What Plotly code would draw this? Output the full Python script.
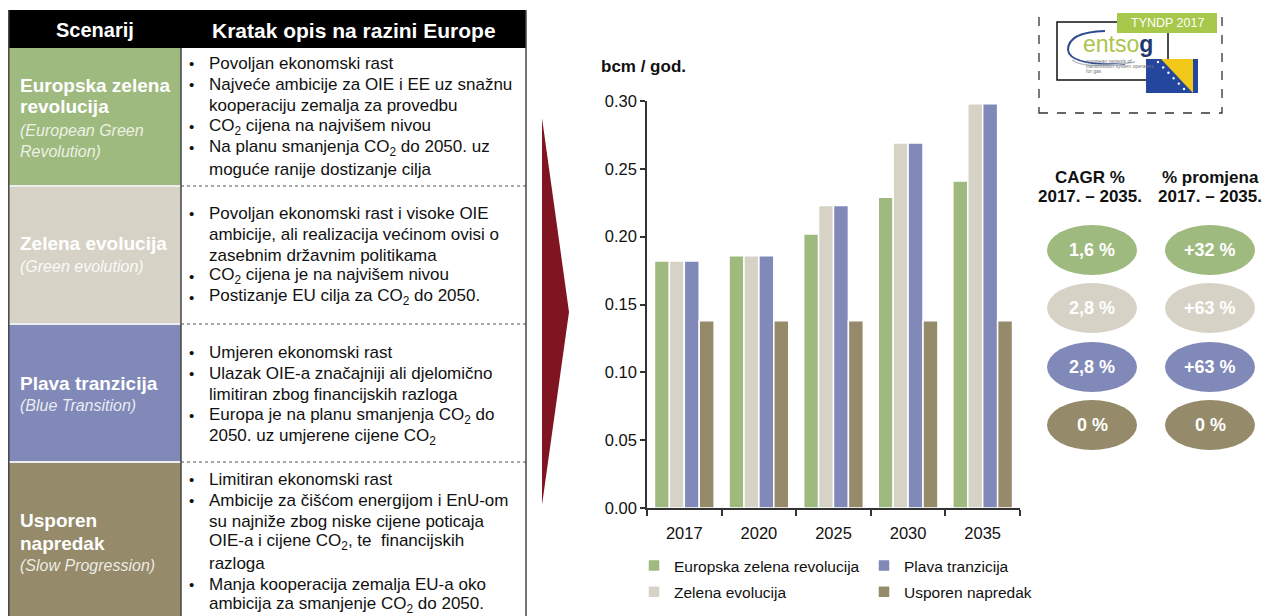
import plotly.graph_objects as go

# page body has an 8px margin: figure is sized so that the page fits the window exactly
OX, OY = 8, 8
FW, FH = 1264, 608
FONT = "Liberation Sans, Arial, sans-serif"

# ---------------- data ----------------
years = ["2017", "2020", "2025", "2030", "2035"]
scenarios = ["Europska zelena revolucija", "Zelena evolucija", "Plava tranzicija", "Usporen napredak"]
egr = [0.182, 0.186, 0.202, 0.229, 0.241]   # Europska zelena revolucija
gev = [0.182, 0.186, 0.223, 0.269, 0.298]   # Zelena evolucija
btr = [0.182, 0.186, 0.223, 0.269, 0.298]   # Plava tranzicija
slp = [0.138, 0.138, 0.138, 0.138, 0.138]   # Usporen napredak
series = [egr, gev, btr, slp]
colors = ["#9fba7f", "#d6d3c6", "#8189b9", "#958a69"]
legend_rank = [1, 3, 2, 4]
legend_ref = ["legend", "legend", "legend2", "legend2"]

yticks = [0.00, 0.05, 0.10, 0.15, 0.20, 0.25, 0.30]
cagr = ["1,6 %", "2,8 %", "2,8 %", "0 %"]
change = ["+32 %", "+63 %", "+63 %", "0 %"]

table_header = ["Scenarij", "Kratak opis na razini Europe"]
scen_title_lines = [["Europska zelena", "revolucija"], ["Zelena evolucija"],
                    ["Plava tranzicija"], ["Usporen", "napredak"]]
scen_en_lines = [["(European Green", "Revolution)"], ["(Green evolution)"],
                 ["(Blue Transition)"], ["(Slow Progression)"]]
bullets = [
    [(True, "Povoljan ekonomski rast"),
     (True, "Najveće ambicije za OIE i EE uz snažnu"),
     (False, "kooperaciju zemalja za provedbu"),
     (True, "CO<sub>2</sub> cijena na najvišem nivou"),
     (True, "Na planu smanjenja CO<sub>2</sub> do 2050. uz"),
     (False, "moguće ranije dostizanje cilja")],
    [(True, "Povoljan ekonomski rast i visoke OIE"),
     (False, "ambicije, ali realizacija većinom ovisi o"),
     (False, "zasebnim državnim politikama"),
     (True, "CO<sub>2</sub> cijena je na najvišem nivou"),
     (True, "Postizanje EU cilja za CO<sub>2</sub> do 2050.")],
    [(True, "Umjeren ekonomski rast"),
     (True, "Ulazak OIE-a značajniji ali djelomično"),
     (False, "limitiran zbog financijskih razloga"),
     (True, "Europa je na planu smanjenja CO<sub>2</sub> do"),
     (False, "2050. uz umjerene cijene CO<sub>2</sub>")],
    [(True, "Limitiran ekonomski rast"),
     (True, "Ambicije za čišćom energijom i EnU-om"),
     (False, "su najniže zbog niske cijene poticaja"),
     (False, "OIE-a i cijene CO<sub>2</sub>, te  financijskih"),
     (False, "razloga"),
     (True, "Manja kooperacija zemalja EU-a oko"),
     (False, "ambicija za smanjenje CO<sub>2</sub> do 2050.")],
]

# ---------------- helpers ----------------
def X(p):
    return (p - OX) / FW

def Y(p):
    return 1 - (p - OY) / FH

shapes = []
ann = []

def rect(x0, y0, x1, y1, fill=None, line=None, lw=0, dash=None, layer="below"):
    shapes.append(dict(type="rect", xref="paper", yref="paper",
                       x0=X(x0), x1=X(x1), y0=Y(y1), y1=Y(y0),
                       fillcolor=fill or "rgba(0,0,0,0)",
                       line=dict(color=line or "rgba(0,0,0,0)", width=lw, dash=dash),
                       layer=layer))

def ellipse(cx, cy, rx, ry, fill, line=None, lw=0):
    shapes.append(dict(type="circle", xref="paper", yref="paper",
                       x0=X(cx - rx), x1=X(cx + rx), y0=Y(cy + ry), y1=Y(cy - ry),
                       fillcolor=fill, line=dict(color=line or "rgba(0,0,0,0)", width=lw),
                       layer="above"))

def line(x0, y0, x1, y1, color, lw=1, dash=None):
    shapes.append(dict(type="line", xref="paper", yref="paper",
                       x0=X(x0), x1=X(x1), y0=Y(y0), y1=Y(y1),
                       line=dict(color=color, width=lw, dash=dash), layer="above"))

def poly(pts, fill, layer="above"):
    d = "M " + " L ".join(f"{X(a):.5f},{Y(b):.5f}" for a, b in pts) + " Z"
    shapes.append(dict(type="path", xref="paper", yref="paper", path=d,
                       fillcolor=fill, line=dict(color="rgba(0,0,0,0)", width=0),
                       layer=layer))

def curve(d_px, color, lw):
    out = []
    for tok in d_px:
        if isinstance(tok, tuple):
            out.append(f"{X(tok[0]):.5f},{Y(tok[1]):.5f}")
        else:
            out.append(tok)
    shapes.append(dict(type="path", xref="paper", yref="paper", path=" ".join(out),
                       line=dict(color=color, width=lw), layer="above"))

def text(x, y, s, size, color, bold=False, italic=False, anchor="left"):
    if bold:
        s = f"<b>{s}</b>"
    if italic:
        s = f"<i>{s}</i>"
    ann.append(dict(xref="paper", yref="paper", x=X(x), y=Y(y), text=s, showarrow=False,
                    xanchor=anchor, yanchor="middle", borderpad=0,
                    font=dict(family=FONT, size=size, color=color)))

# ---------------- left table ----------------
TL, TM, TR = 8.8, 181, 526
rect(TL, 10, TR, 48, fill="#000000")
text((TL + TM) / 2, 30, table_header[0], 20, "white", bold=True, anchor="center")
text((TM + TR) / 2, 30, table_header[1], 21, "white", bold=True, anchor="center")

row_spans = [(48, 185), (187, 323), (325, 461), (463, 625)]
title_y = [[85, 107], [244], [383], [520, 543]]
en_y = [[131, 152], [266], [405], [565]]
bullet_start = [63, 213, 352, 479.5]
steps = [21.2, 21.1, 21.3, 20.9]
en_colors = ["rgba(255,255,255,0.82)", "rgba(255,255,255,0.9)",
             "rgba(255,255,255,0.85)", "rgba(255,255,255,0.85)"]

for i, (y0, y1) in enumerate(row_spans):
    rect(TL, y0, TM, y1, fill=colors[i])
    for t, yy in zip(scen_title_lines[i], title_y[i]):
        text(19, yy, t, 19, "white", bold=True)
    for t, yy in zip(scen_en_lines[i], en_y[i]):
        text(19, yy, t, 16, en_colors[i], italic=True)
    for k, (is_b, t) in enumerate(bullets[i]):
        yy = bullet_start[i] + k * steps[i]
        if is_b:
            text(188, yy, "•", 15, "#111111")
        text(208, yy, t, 17, "#111111")

for yy in [186, 324, 462]:
    line(TM, yy, TR, yy, "#555555", 1, "dot")
    line(TL, yy, TM, yy, "#eeeeee", 2)
# frame
line(TL, 10, TL, 620, "#444444", 1.5)
line(TR, 10, TR, 620, "#444444", 1.5)
line(TM, 48, TM, 620, "#444444", 1.5)

# ---------------- arrow ----------------
poly([(542, 118), (569, 312), (542, 505)], "#7e1520")

# ---------------- logo ----------------
rect(1039, 5, 1222, 113, line="#333333", lw=1.3, dash="dash", layer="above")
rect(1057, 22, 1168, 80, fill="white", line="#111111", lw=1.5, layer="above")
rect(1117, 13, 1217, 33, fill="#a7c84b", layer="above")
text(1167, 23, "TYNDP 2017", 12.5, "white", anchor="center")
curve(["M", (1105, 31), "Q", (1068, 32), (1068, 50), "Q", (1070, 66), (1125, 64)], "#2f4b8f", 2)
curve(["M", (1072, 60), "Q", (1085, 70), (1135, 62)], "#b8bcc8", 1.5)
text(1082, 44, "<span style='color:#a9c54c'>entso</span><b><span style='color:#23376f'>g</span></b>",
     23, "#a9c54c")
logo_small = ["european network of", "transmission system operators", "for gas"]
for k, yy in enumerate([61, 66, 71]):
    text(1085, yy, logo_small[k], 5, "#777777")
# flag
rect(1146, 59, 1198, 93, fill="#24469c", layer="above")
poly([(1161, 59), (1193, 59), (1193, 93)], "#f3c919")
for k in range(6):
    ellipse(1158 + k * 5.2, 62 + k * 5.4, 1.2, 1.2, "white")

# ---------------- CAGR ovals ----------------
text(1090, 177, "CAGR %", 17, "#111111", bold=True, anchor="center")
text(1090, 197, "2017. – 2035.", 17, "#111111", bold=True, anchor="center")
text(1210, 177, "% promjena", 17, "#111111", bold=True, anchor="center")
text(1210, 197, "2017. – 2035.", 17, "#111111", bold=True, anchor="center")
oval_y = [250, 308, 367, 425]
for i in range(4):
    ellipse(1092, oval_y[i], 45, 25, colors[i])
    ellipse(1210, oval_y[i], 45, 25, colors[i])
    text(1092, oval_y[i], cagr[i], 18, "white", bold=True, anchor="center")
    text(1210, oval_y[i], change[i], 18, "white", bold=True, anchor="center")

# ---------------- chart title ----------------
text(600, 66, "bcm / god.", 17, "#111111", bold=True)

# ---------------- bars ----------------
fig = go.Figure()
for i, name in enumerate(scenarios):
    fig.add_trace(go.Bar(
        x=years, y=series[i], name=name,
        marker=dict(color=colors[i], line=dict(color="white", width=1.5)),
        legend=legend_ref[i], legendrank=legend_rank[i], legendgroup=name,
        hovertemplate="%{x}: %{y:.3f}<extra>" + name + "</extra>",
    ))

leg_common = dict(xanchor="left", yanchor="top", bgcolor="rgba(0,0,0,0)",
                  font=dict(size=15.5, color="#111111"), tracegroupgap=3,
                  orientation="v")
fig.update_layout(
    width=FW, height=FH,
    margin=dict(l=0, r=0, t=0, b=0, autoexpand=False),
    paper_bgcolor="white", plot_bgcolor="white",
    font=dict(family=FONT, color="#111111"),
    barmode="group", bargap=0.2, bargroupgap=0,
    xaxis=dict(domain=[X(647), X(1020)], type="category",
               showline=True, linecolor="#333333", linewidth=1.5,
               ticks="outside", tickson="boundaries", ticklen=6, tickcolor="#333333",
               tickwidth=1.5, showgrid=False, ticklabelstandoff=9,
               tickfont=dict(size=16.5, color="#111111")),
    yaxis=dict(domain=[Y(508), Y(101)], range=[0, 0.30],
               tickvals=yticks, tickformat=".2f",
               showline=True, linecolor="#333333", linewidth=1.5,
               ticks="outside", ticklen=5, tickcolor="#333333", tickwidth=1.5,
               showgrid=False, zeroline=False, tickfont=dict(size=16.5, color="#111111")),
    legend=dict(x=X(634), y=Y(549), **leg_common),
    legend2=dict(x=X(864), y=Y(549), **leg_common),
    shapes=shapes,
    annotations=ann,
    showlegend=True,
)

fig.write_html("out.html")
